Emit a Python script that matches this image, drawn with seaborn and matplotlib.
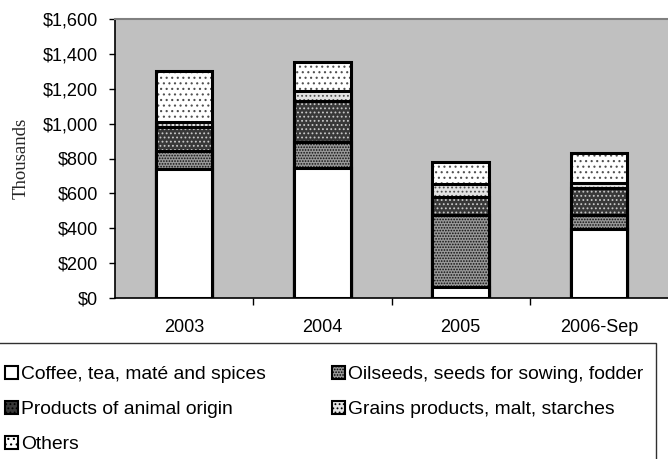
import matplotlib
matplotlib.use("Agg")
import matplotlib.pyplot as plt
from matplotlib.patches import Patch, Rectangle
from matplotlib.ticker import FixedLocator, FuncFormatter
import seaborn as sns
import pandas as pd
import numpy as np

# ---- data (thousands of US$) ----
periods = ["2003", "2004", "2005", "2006-Sep"]
coffee = [740, 747, 65, 394]
oilseeds = [105, 149, 411, 82]
animal = [137, 236, 105, 153]
grains = [29, 55, 71, 32]
others = [291, 168, 130, 172]

series_names = ["Coffee, tea, maté and spices",
                "Oilseeds, seeds for sowing, fodder",
                "Products of animal origin",
                "Grains products, malt, starches",
                "Others"]

sns.set_theme(style="white")
plt.rcParams["font.family"] = ["Liberation Sans", "DejaVu Sans"]
plt.rcParams["hatch.linewidth"] = 0.8

fig = plt.figure(figsize=(6.68, 4.59), dpi=100)
ax = fig.add_axes([115 / 668, 1 - 298 / 459, 553 / 668, 279 / 459])
ax.set_facecolor("#c0c0c0")

# styles: (facecolor, hatch colour, hatch)
styles = [
    ("white", "black", None),
    ("#989898", "#101010", "......"),
    ("#383838", "#c8c8c8", "...."),
    ("#e4e4e4", "#505050", "...."),
    ("white", "#505050", "..."),
]

layers = [coffee, oilseeds, animal, grains, others]
cum = np.cumsum(np.array(layers, dtype=float), axis=0)

bar_w = 0.41
# draw from the top cumulative layer downwards so lower layers cover upper ones
for i in range(len(layers) - 1, -1, -1):
    df = pd.DataFrame({"period": periods, "value": cum[i]})
    fc, hc, hatch = styles[i]
    sns.barplot(data=df, x="period", y="value", order=periods, ax=ax,
                color=fc, saturation=1, width=bar_w, errorbar=None,
                edgecolor=hc, linewidth=0, hatch=hatch)
    sns.barplot(data=df, x="period", y="value", order=periods, ax=ax,
                fill=False, width=bar_w, errorbar=None,
                edgecolor="black", linewidth=2.2)

ax.set_xlim(-0.5, 3.5)
ax.set_ylim(0, 1600)
ax.set_xlabel("")
ax.set_ylabel("Thousands", family=["Liberation Serif", "DejaVu Serif"], fontsize=13.5)
ax.yaxis.set_label_coords(-0.155, 0.5)

ax.yaxis.set_major_locator(FixedLocator(np.arange(0, 1601, 200)))
ax.yaxis.set_major_formatter(FuncFormatter(lambda v, p: f"${int(v):,}"))
ax.tick_params(axis="y", which="major", direction="out", length=4, width=1,
               color="black", pad=8, labelsize=13, left=True)
ax.tick_params(axis="x", which="major", length=0, pad=15, labelsize=13)
ax.xaxis.set_minor_locator(FixedLocator([0.5, 1.5, 2.5]))
ax.tick_params(axis="x", which="minor", direction="out", length=5, width=1,
               color="black", bottom=True)
for lab in ax.get_xticklabels() + ax.get_yticklabels():
    lab.set_color("black")

for s in ["left", "bottom"]:
    ax.spines[s].set_color("black")
    ax.spines[s].set_linewidth(1.2)
ax.spines["top"].set_color("#808080")
ax.spines["top"].set_linewidth(1.5)
ax.spines["right"].set_visible(False)

# legend
handles = []
for i, name in enumerate(series_names):
    fc, hc, hatch = styles[i]
    handles.append(Patch(facecolor=fc, edgecolor="black", hatch=hatch,
                         linewidth=1.5, label=name))
order = [0, 2, 4, 1, 3]
leg = fig.legend([handles[k] for k in order], [series_names[k] for k in order],
                 loc="upper left", bbox_to_anchor=(-18 / 668, 1 - 343 / 459),
                 ncol=2, frameon=False, fontsize=13.9, borderaxespad=0,
                 borderpad=1.18, labelspacing=0.92, handlelength=0.66,
                 handleheight=0.66, handletextpad=0.2, columnspacing=3.4)
for t in leg.get_texts():
    t.set_color("black")

fig.patches.append(Rectangle((-2 / 668, -0.05), 658 / 668, 0.05 + (459 - 343) / 459,
                             transform=fig.transFigure, fill=False,
                             edgecolor="#303030", linewidth=1.0))

fig.savefig("out.png", dpi=100)
